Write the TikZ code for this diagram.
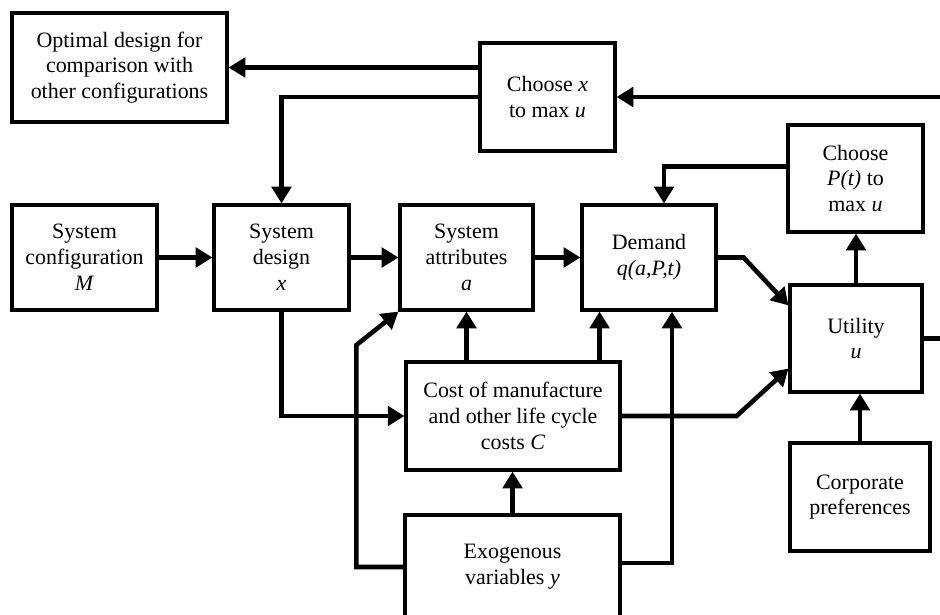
\documentclass[tikz,border=0pt]{standalone}
\usepackage{fontspec}
\setmainfont{Liberation Serif}
\usetikzlibrary{arrows.meta,calc}
\begin{document}
\begin{tikzpicture}[x=0.02cm,y=-0.02cm,>={Triangle[length=9.5pt,width=11pt]},
  font=\fontsize{12.5}{14.7}\selectfont, line join=miter,
  box/.style={draw,line width=1.8pt,align=center,inner sep=0pt},
  flow/.style={->,line width=2.6pt}]
\useasboundingbox (0,0) rectangle (940,615);
% boxes
\node[box,minimum width=4.3cm,minimum height=2.18cm] (opt) at (119.5,67.5) {Optimal design for\\comparison with\\other configurations};
\node[box,minimum width=2.7cm,minimum height=2.16cm] (choosex) at (547.5,97) {Choose \textit{x}\\to max \textit{u}};
\node[box,minimum width=2.9cm,minimum height=2.1cm] (config) at (84.5,257.5) {System\\configuration\\\textit{M}};
\node[box,minimum width=2.7cm,minimum height=2.1cm] (design) at (281.5,257.5) {System\\design\\\textit{x}};
\node[box,minimum width=2.66cm,minimum height=2.1cm] (attr) at (466.5,257.5) {System\\attributes\\\textit{a}};
\node[box,minimum width=2.68cm,minimum height=2.1cm] (demand) at (649,257.5) {Demand\\\textit{q(a,P,t)}};
\node[box,minimum width=2.7cm,minimum height=2.14cm] (chooseP) at (855.5,178.5) {Choose\\\textit{P(t)} to\\max \textit{u}};
\node[box,minimum width=2.64cm,minimum height=2.14cm] (utility) at (856,338.5) {Utility\\\textit{u}};
\node[box,minimum width=4.28cm,minimum height=2.16cm] (cost) at (513,416) {Cost of manufacture\\and other life cycle\\costs \textit{C}};
\node[box,minimum width=2.8cm,minimum height=2.16cm] (corp) at (860,497) {Corporate\\preferences};
\node[box,minimum width=4.3cm,minimum height=2.08cm] (exo) at (512.5,567) {Exogenous\\variables \textit{y}};
\coordinate (inR) at (940,97);
\coordinate (outR) at (940,338.5);
% arrows
\draw[flow] (choosex.west |- opt.east) -- (opt.east);
\draw[flow] (inR) -- (choosex.east);
\draw[flow] (choosex.west) -| (design.north);
\draw[flow] (config) -- (design);
\draw[flow] (design) -- (attr);
\draw[flow] (attr) -- (demand);
\draw[flow] (demand.east) -- ++(26,0) -- ($(utility.north west)+(0,22)$);
\draw[flow] (utility.north) -- (utility.north |- chooseP.south);
\draw[flow] ($(chooseP.west)+(0,-12)$) -| ($(demand.north)+(15,0)$);
\draw[flow] (design.south) |- (cost.west);
\draw[flow] (exo.west) -- ++(-47,0) -- ++(0,-222) -- (attr.south west);
\draw[flow] (cost.north -| attr.south) -- (attr.south);
\draw[flow] ($(cost.north east)+(-22,0)$) coordinate (c1) -- (c1 |- demand.south);
\draw[flow] ($(exo.east)+(0,-4)$) -| ($(demand.south)+(23,0)$);
\draw[flow] (cost.east) -- ++(115,0) -- ($(utility.south west)+(0,-25)$);
\draw[flow] (exo.north) -- (exo.north |- cost.south);
\draw[flow] (corp.north) -- (corp.north |- utility.south);
\draw[line width=2.6pt] (utility.east) -- (outR);
\end{tikzpicture}
\end{document}
